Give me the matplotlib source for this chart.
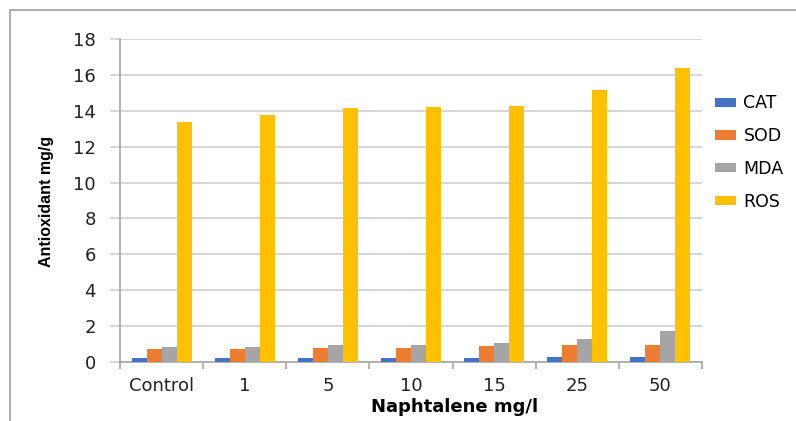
import numpy as np
import matplotlib
matplotlib.use('Agg')
import matplotlib.pyplot as plt
from matplotlib.patches import Rectangle

plt.rcParams['font.family'] = ['DejaVu Sans']

# 농도별 항산화 지표
groups = ['Control', '1', '5', '10', '15', '25', '50']
cat = [0.2, 0.25, 0.25, 0.25, 0.25, 0.3, 0.3]
sod = [0.7, 0.74, 0.8, 0.8, 0.88, 0.95, 0.95]
mda = [0.84, 0.84, 0.95, 0.95, 1.04, 1.28, 1.73]
ros = [13.4, 13.75, 14.15, 14.2, 14.25, 15.15, 16.4]

series = [('CAT', cat, '#4472C4'), ('SOD', sod, '#ED7D31'),
          ('MDA', mda, '#A5A5A5'), ('ROS', ros, '#FFC000')]

fig = plt.figure(figsize=(7.96, 4.21), dpi=100)
ax = fig.add_axes([0.1508, 0.1401, 0.7311, 0.7673])

x = np.arange(len(groups))
w = 0.18
for i, (name, vals, col) in enumerate(series):
    ax.bar(x + (i - 1.5) * w, vals, w, color=col, label=name, zorder=3)

ax.set_xlim(-0.5, len(groups) - 0.5)
ax.set_ylim(0, 18)
ax.set_yticks(range(0, 19, 2))
ax.set_xticks(x)
ax.set_xticklabels(groups)
ax.set_xticks(np.arange(-0.5, len(groups)), minor=True)

grid_c = '#D0D0D0'
axis_c = '#A6A6A6'
ax.yaxis.grid(True, color=grid_c, linewidth=1.2, zorder=0)
for s in ['top', 'right']:
    ax.spines[s].set_visible(False)
ax.spines['left'].set_color(axis_c)
ax.spines['bottom'].set_color(axis_c)
ax.spines['left'].set_linewidth(1.2)
ax.spines['bottom'].set_linewidth(1.2)

ax.tick_params(axis='y', length=7.5, width=1.2, color=grid_c, labelsize=13,
               pad=10, labelcolor='#222222')
ax.tick_params(axis='x', which='major', length=0, labelsize=13, pad=11,
               labelcolor='#222222')
ax.tick_params(axis='x', which='minor', length=5, width=1.2, color=axis_c)

# 축 제목
fig.text(455 / 796, 1 - 407 / 421, 'Naphtalene mg/l', fontsize=13,
         fontweight='bold', ha='center', va='center')
fig.text(47 / 796, 1 - 201 / 421, 'Antioxidant mg/g', fontsize=11.5,
         fontweight='bold', rotation=90, ha='center', va='center',
         family=['Liberation Sans', 'DejaVu Sans'])

ax.legend(loc='upper left', bbox_to_anchor=(1.01, 0.85), frameon=False,
          fontsize=12.5, handlelength=1.2, handleheight=0.45, labelspacing=0.85,
          handletextpad=0.45, borderaxespad=0)

# 바깥 테두리
fig.patches.append(Rectangle((10 / 796, -0.1), 1.2, 1 - 10 / 421 + 0.1,
                             transform=fig.transFigure, fill=False,
                             edgecolor='#A0A0A0', linewidth=1.2))

fig.savefig('out.png', dpi=100)
